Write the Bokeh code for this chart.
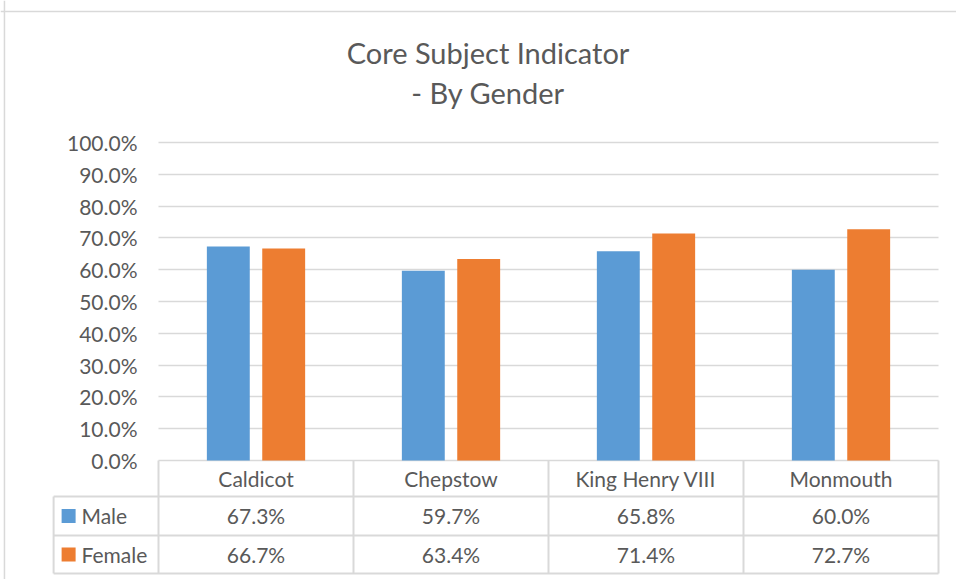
import numpy as np
from bokeh.plotting import figure
from bokeh.models import Range1d, FixedTicker, NumeralTickFormatter, Label, Span
from bokeh.core.properties import value
from bokeh.embed import file_html
from bokeh.resources import INLINE

# ---- data ----
schools = ["Caldicot", "Chepstow", "King Henry VIII", "Monmouth"]
male = [0.673, 0.597, 0.658, 0.600]
female = [0.667, 0.634, 0.714, 0.727]
series_names = ["Male", "Female"]
series_colors = ["#5B9BD5", "#ED7D31"]
y_ticks = [0.0, 0.1, 0.2, 0.3, 0.4, 0.5, 0.6, 0.7, 0.8, 0.9, 1.0]
title_lines = ["Core Subject Indicator", "- By Gender"]

# ---- layout constants ----
TEXT = "#595959"
LINE = "#D9D9D9"
FONT = "Lato"
BAR_W = 0.22
OFFSET = 0.142
LEG_LEFT = -0.538
ROW_BOUNDS = [0.0, -0.1132, -0.2358, -0.3553]  # header top, header bottom, male bottom, female bottom

n = len(schools)
centers = np.arange(n) + 0.5

p = figure(width=956, height=579,
           x_range=Range1d(-0.8103, 4.0923), y_range=Range1d(-0.3742, 1.4465),
           output_backend="svg", toolbar_location=None, min_border=0)
p.outline_line_color = None
p.background_fill_color = "white"
p.border_fill_color = "white"

p.xaxis.visible = False
p.xgrid.visible = False

ax = p.yaxis[0]
ax.fixed_location = 0
ax.ticker = FixedTicker(ticks=y_ticks)
ax.formatter = NumeralTickFormatter(format="0.0%")
ax.axis_line_color = None
ax.major_tick_line_color = None
ax.minor_tick_line_color = None
ax.major_tick_out = 0
ax.major_tick_in = 0
ax.major_label_standoff = 21
ax.major_label_text_font = FONT
ax.major_label_text_font_size = "21px"
ax.major_label_text_color = TEXT

g = p.ygrid[0]
g.ticker = FixedTicker(ticks=y_ticks)
g.grid_line_color = LINE
g.grid_line_width = 1.5
g.cross_bounds = (0, n)

# bars
p.vbar(x=centers - OFFSET, top=male, bottom=0, width=BAR_W, fill_color=series_colors[0], line_color=None)
p.vbar(x=centers + OFFSET, top=female, bottom=0, width=BAR_W, fill_color=series_colors[1], line_color=None)

# table lines
x0, y0, x1, y1 = [], [], [], []
for yb in ROW_BOUNDS[1:]:
    x0.append(LEG_LEFT); x1.append(n); y0.append(yb); y1.append(yb)
for i in range(n + 1):
    x0.append(i); x1.append(i); y0.append(ROW_BOUNDS[0]); y1.append(ROW_BOUNDS[-1])
x0.append(LEG_LEFT); x1.append(LEG_LEFT); y0.append(ROW_BOUNDS[1]); y1.append(ROW_BOUNDS[-1])
p.segment(x0=x0, y0=y0, x1=x1, y1=y1, line_color=LINE, line_width=2)

row_mid = [(ROW_BOUNDS[k] + ROW_BOUNDS[k + 1]) / 2 for k in range(3)]

# header labels
p.text(x=centers, y=[row_mid[0]] * n, text=schools, text_font=value(FONT), text_font_size="21px",
       text_align="center", text_baseline="middle", text_color=TEXT)
# values
for k, vals in enumerate([male, female]):
    p.text(x=centers, y=[row_mid[k + 1]] * n, text=[f"{v:.1%}" for v in vals], text_font=value(FONT),
           text_font_size="21px", text_align="center", text_baseline="middle", text_color=TEXT)
# legend keys
p.scatter(x=[LEG_LEFT + 0.077] * 2, y=row_mid[1:], marker="square", size=14,
          fill_color=series_colors, line_color=None)
p.text(x=[LEG_LEFT + 0.143] * 2, y=row_mid[1:], text=series_names, text_font=value(FONT),
       text_font_size="21px", text_align="left", text_baseline="middle", text_color=TEXT)

# title
for t, yy in zip(title_lines, [1.283, 1.157]):
    p.add_layout(Label(x=1.69, y=yy, text=t, text_align="center", text_baseline="middle",
                       text_font=FONT, text_font_size="29px", text_color=TEXT))

# chart border (top and left)
p.add_layout(Span(location=1.412, dimension="width", line_color=LINE, line_width=1.5))
p.add_layout(Span(location=-0.79, dimension="height", line_color=LINE, line_width=1.5))

open("out.html", "w").write(file_html(p, INLINE))
